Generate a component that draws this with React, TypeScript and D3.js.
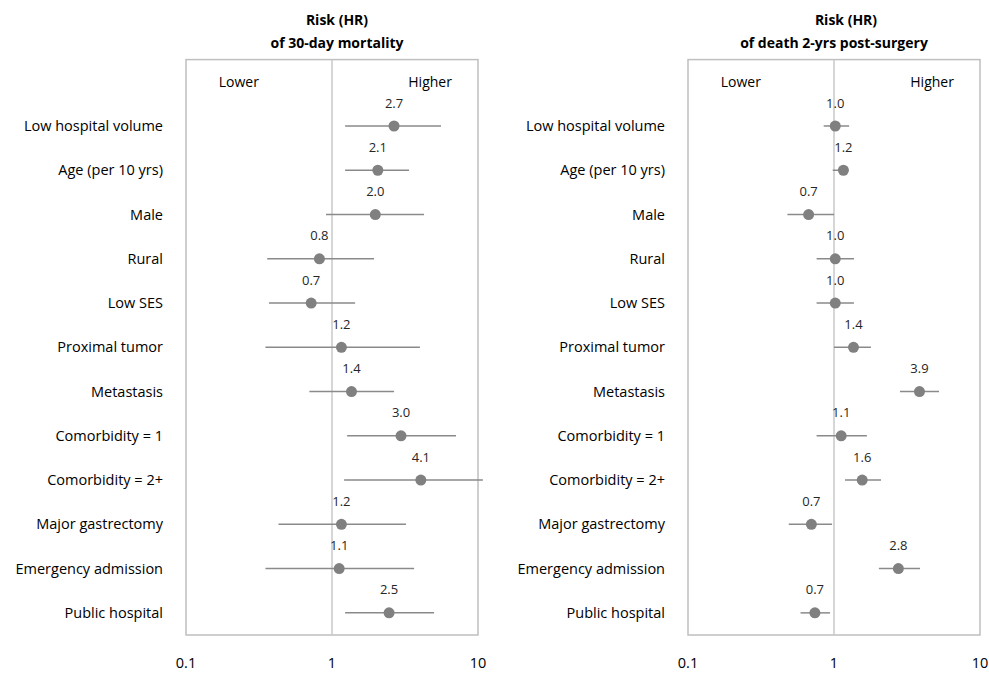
import React from "react";
import * as d3 from "d3";

const categories = [
  "Low hospital volume",
  "Age (per 10 yrs)",
  "Male",
  "Rural",
  "Low SES",
  "Proximal tumor",
  "Metastasis",
  "Comorbidity = 1",
  "Comorbidity = 2+",
  "Major gastrectomy",
  "Emergency admission",
  "Public hospital",
];

// Panel 1: 30-day mortality
const hr30 = [2.66, 2.06, 1.98, 0.82, 0.72, 1.16, 1.36, 2.97, 4.06, 1.16, 1.12, 2.46];
const lo30 = [1.23, 1.23, 0.91, 0.36, 0.37, 0.35, 0.70, 1.27, 1.21, 0.43, 0.35, 1.23];
const hi30 = [5.58, 3.37, 4.27, 1.94, 1.44, 4.0, 2.66, 7.07, 10.8, 3.21, 3.65, 5.0];

// Panel 2: death 2 yrs post-surgery
const hr2y = [1.02, 1.16, 0.67, 1.02, 1.02, 1.36, 3.85, 1.12, 1.56, 0.7, 2.76, 0.74];
const lo2y = [0.85, 0.98, 0.48, 0.76, 0.76, 1.0, 2.83, 0.76, 1.19, 0.49, 2.03, 0.59];
const hi2y = [1.27, 1.25, 1.0, 1.37, 1.37, 1.79, 5.24, 1.68, 2.1, 0.97, 3.88, 0.94];

const titles = [
  ["Risk (HR)", "of 30-day mortality"],
  ["Risk (HR)", "of death 2-yrs post-surgery"],
];
const tickValues = [0.1, 1, 10];
const tickLabels = ["0.1", "1", "10"];
const directionLabels = ["Lower", "Higher"];

const FONT = "'Open Sans', Lato, sans-serif";

type PanelProps = {
  offsetX: number;
  hr: number[];
  lo: number[];
  hi: number[];
  title: string[];
  titleShift: number[];
};

function Panel({ offsetX, hr, lo, hi, title, titleShift }: PanelProps) {
  const x = d3.scaleLog().domain([0.1, 10]).range([186 + offsetX, 478 + offsetX]);
  const y = d3.scaleLinear().domain([-0.5, 12.5]).range([59.6, 635]);
  const x0 = x(0.1);
  const x1 = x(10);
  const cx = (x0 + x1) / 2;
  return (
    <g>
      {title.map((t, i) => (
        <text
          key={i}
          x={cx + titleShift[i]}
          y={25 + i * 23}
          textAnchor="middle"
          fontFamily={FONT}
          fontWeight="bold"
          fontSize={14}
          fill="#000"
        >
          {t}
        </text>
      ))}
      <rect
        x={x0}
        y={y(-0.5)}
        width={x1 - x0}
        height={y(12.5) - y(-0.5)}
        fill="none"
        stroke="#bfbfbf"
        strokeWidth={1.5}
      />
      <line x1={x(1)} x2={x(1)} y1={y(-0.5)} y2={y(12.5)} stroke="#c8c8c8" strokeWidth={1.5} />
      <text x={x(0.23)} y={y(0)} dy="0.35em" textAnchor="middle" fontFamily={FONT} fontSize={14} fill="#000">
        {directionLabels[0]}
      </text>
      <text x={x(4.7)} y={y(0)} dy="0.35em" textAnchor="middle" fontFamily={FONT} fontSize={14} fill="#000">
        {directionLabels[1]}
      </text>
      {categories.map((c, i) => {
        const yy = y(i + 1);
        return (
          <g key={c}>
            <text
              x={163 + offsetX}
              y={yy}
              dy="0.35em"
              textAnchor="end"
              fontFamily={FONT}
              fontSize={14.5}
              fill="#000"
            >
              {c}
            </text>
            <line x1={x(lo[i])} x2={x(hi[i])} y1={yy} y2={yy} stroke="#8a8a8a" strokeWidth={1.5} />
            <circle cx={x(hr[i])} cy={yy} r={5.5} fill="#808080" />
            <text
              x={x(hr[i])}
              y={yy - 23}
              dy="0.35em"
              textAnchor="middle"
              fontFamily={FONT}
              fontSize={13}
              fill="#262626"
            >
              {hr[i].toFixed(1)}
            </text>
          </g>
        );
      })}
      {tickValues.map((t, i) => (
        <text
          key={t}
          x={x(t)}
          y={663}
          dy="0.35em"
          textAnchor="middle"
          fontFamily={FONT}
          fontSize={14.5}
          fill="#000"
        >
          {tickLabels[i]}
        </text>
      ))}
    </g>
  );
}

export default function App() {
  return (
    <svg
      width={989}
      height={674}
      style={{ position: "absolute", left: 0, top: 0, background: "#fff" }}
    >
      <rect width={989} height={674} fill="#fff" />
      <Panel offsetX={0} hr={hr30} lo={lo30} hi={hi30} title={titles[0]} titleShift={[5, 5]} />
      <Panel offsetX={502} hr={hr2y} lo={lo2y} hi={hi2y} title={titles[1]} titleShift={[12, 0]} />
    </svg>
  );
}
